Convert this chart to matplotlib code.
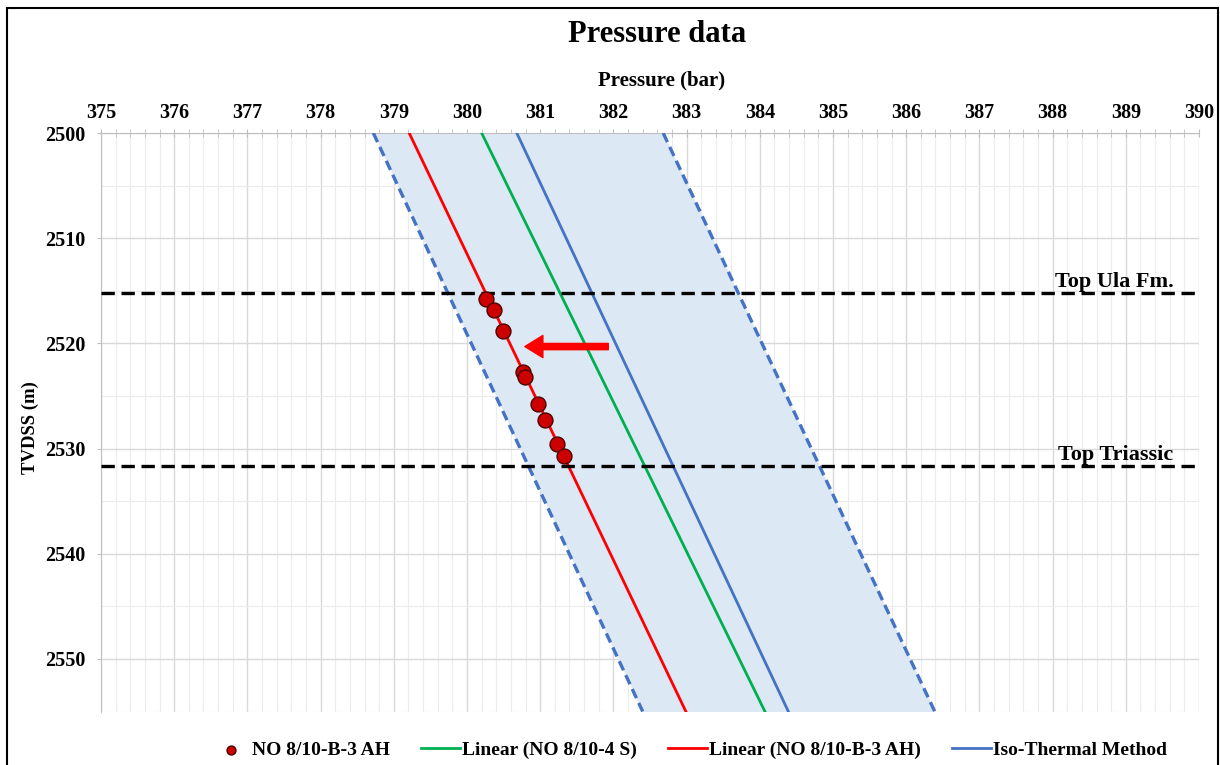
import matplotlib
matplotlib.use('Agg')
import matplotlib.pyplot as plt
from matplotlib.patches import Rectangle
from matplotlib.ticker import MultipleLocator

plt.rcParams['font.family'] = ['Liberation Serif', 'DejaVu Serif']
plt.rcParams['font.weight'] = 'bold'

# Measured pressure points, well NO 8/10-B-3 AH
b3_depth = [2515.8, 2516.8, 2518.8, 2522.7, 2523.2, 2525.8, 2527.3, 2529.6, 2530.7]
b3_press = [380.26, 380.37, 380.49, 380.77, 380.79, 380.97, 381.07, 381.23, 381.32]

# Trend lines, given at the top and bottom of the depth window
line_depth = [2500, 2555]
linear_b3 = [379.21, 382.99]
linear_4s = [380.20, 384.07]
isothermal = [380.68, 384.39]
iso_low = [378.72, 382.40]
iso_high = [382.68, 386.39]

# Formation tops
tops = {'Top Ula Fm.': 2515.2, 'Top Triassic': 2531.7}

# Pressure shift arrow (from -> to)
shift_depth = 2520.3
shift_from, shift_to = 381.93, 380.79

RED = '#ff0000'
GREEN = '#00b050'
BLUE = '#4472c4'
GRID = '#d9d9d9'

fig = plt.figure(figsize=(12.2, 7.65), dpi=100)
ax = fig.add_axes([0.0828, 0.0699, 0.9, 0.7562])

ax.fill_betweenx(line_depth, iso_low, iso_high, color='#dde8f5', lw=0, zorder=1)
ax.plot(iso_low, line_depth, color=BLUE, lw=2.4, ls=(0, (3, 1.6)), zorder=3)
ax.plot(iso_high, line_depth, color=BLUE, lw=2.4, ls=(0, (3, 1.6)), zorder=3)

ax.plot(linear_4s, line_depth, color=GREEN, lw=2.0, zorder=3, label='Linear (NO 8/10-4 S)')
ax.plot(linear_b3, line_depth, color=RED, lw=2.0, zorder=3, label='Linear (NO 8/10-B-3 AH)')
ax.plot(isothermal, line_depth, color=BLUE, lw=2.0, zorder=3, label='Iso-Thermal Method')
ax.scatter(b3_press, b3_depth, s=115, color='#cc0000', edgecolor='#4d0000',
           lw=1.0, zorder=5, label='NO 8/10-B-3 AH')

for name, depth in tops.items():
    ax.axhline(depth, color='black', lw=2.4, ls=(0, (4, 2)), zorder=4)
    ax.text(389.65, depth - 0.6, name, ha='right', va='baseline', fontsize=16,
            fontweight='bold', zorder=6)

ax.annotate('', xy=(shift_to, shift_depth), xytext=(shift_from, shift_depth),
            arrowprops=dict(color=RED, width=4.5, headwidth=16, headlength=13),
            zorder=6)

ax.set_xlim(375, 390)
ax.set_ylim(2555, 2500)
ax.xaxis.set_major_locator(MultipleLocator(1))
ax.xaxis.set_minor_locator(MultipleLocator(0.2))
ax.yaxis.set_major_locator(MultipleLocator(10))
ax.yaxis.set_minor_locator(MultipleLocator(5))
ax.xaxis.tick_top()

ax.grid(which='major', color=GRID, lw=1.0, zorder=0)
ax.grid(which='minor', color='#ececec', lw=0.8, zorder=0)
ax.set_axisbelow(True)

ax.tick_params(axis='x', which='both', direction='inout', length=6, color='#bfbfbf',
               labelsize=14.5, pad=4)
ax.tick_params(axis='y', which='major', direction='out', length=3, color='#bfbfbf',
               labelsize=14.5, pad=8)
ax.tick_params(axis='y', which='minor', length=0)
for lab in ax.get_xticklabels() + ax.get_yticklabels():
    lab.set_fontweight('bold')
for side, sp in ax.spines.items():
    sp.set_color('#bfbfbf')
    sp.set_visible(side in ('top', 'left'))

fig.text(662 / 1220, 1 - 80 / 765, 'Pressure (bar)', ha='center', va='center',
         fontsize=15, fontweight='bold')
fig.text(30 / 1220, 1 - 428 / 765, 'TVDSS (m)', ha='center', va='center',
         rotation=90, fontsize=13.5, fontweight='bold')
fig.text(657 / 1220, 1 - 35 / 765, 'Pressure data', ha='center', va='center',
         fontsize=22, fontweight='bold')

handles, labels = ax.get_legend_handles_labels()
order = [3, 0, 1, 2]
fig.legend([handles[i] for i in order], [labels[i] for i in order],
           loc='center', bbox_to_anchor=(689 / 1220, 1 - 750 / 765), ncol=4,
           frameon=False, prop=dict(size=14, weight='bold'), handlelength=2.0,
           handletextpad=0.1, columnspacing=1.6, markerscale=0.6)

fig.add_artist(Rectangle((0.0057, -0.02), 0.9926, 1.0095, transform=fig.transFigure,
                         fill=False, lw=1.5, edgecolor='black'))

fig.savefig('out.png', dpi=100)
